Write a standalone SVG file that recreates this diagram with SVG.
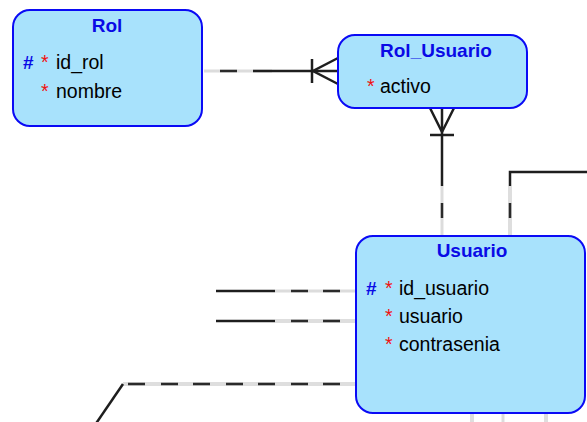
<svg xmlns="http://www.w3.org/2000/svg" width="587" height="422" viewBox="0 0 587 422">
  <style>
    .box { fill: #a8e2fc; stroke: #0a0af5; stroke-width: 2; }
    .title { font-family: "Liberation Sans", Arial, sans-serif; font-weight: bold; font-size: 19px; fill: #0a0ae6; text-anchor: middle; }
    .attr { font-family: "Liberation Sans", Arial, sans-serif; font-size: 19.5px; fill: #000; }
    .pk { font-family: "Liberation Sans", Arial, sans-serif; font-weight: bold; font-size: 19px; fill: #0a0ae6; }
    .req { font-family: "Liberation Sans", Arial, sans-serif; font-size: 19.5px; fill: #f01010; }
    .solid { stroke: #1e1e1e; stroke-width: 2.5; fill: none; }
    .dash { stroke: #2a2a2a; stroke-width: 2.5; fill: none; }
    .grey { stroke: #dcdcdc; stroke-width: 3; fill: none; }
    .rim { stroke: #bdbdbd; stroke-width: 3; fill: none; }
    .core { stroke: #ffffff; stroke-width: 1; fill: none; }
  </style>

  <g id="connectors">
    <!-- Rol to Rol_Usuario -->
    <line class="grey" x1="204" y1="71" x2="272" y2="71"/>
    <line class="dash" x1="220" y1="71" x2="237" y2="71"/>
    <line class="solid" x1="253" y1="71" x2="338" y2="71"/>
    <line class="solid" x1="312" y1="59" x2="312" y2="83"/>
    <polyline class="solid" points="338,58 313,71 338,84"/>

    <!-- Rol_Usuario to Usuario -->
    <line class="solid" x1="442" y1="108" x2="442" y2="186"/>
    <line class="grey" x1="442" y1="186" x2="442" y2="236"/>
    <line class="dash" x1="442" y1="203" x2="442" y2="218"/>
    <line class="solid" x1="430" y1="135" x2="454" y2="135"/>
    <polyline class="solid" points="430,108 442,132 454,108"/>

    <!-- right-hand link entering Usuario from above -->
    <polyline class="solid" points="587,172 510,172 510,186"/>
    <line class="rim" x1="510" y1="186" x2="510" y2="236"/>
    <line class="core" x1="510" y1="186" x2="510" y2="236"/>
    <line class="dash" x1="510" y1="203" x2="510" y2="218"/>

    <!-- left-hand links into Usuario -->
    <line class="grey" x1="275" y1="291" x2="356" y2="291"/>
    <line class="solid" x1="216" y1="291" x2="275" y2="291"/>
    <line class="dash" x1="291" y1="291" x2="308" y2="291"/>
    <line class="dash" x1="323" y1="291" x2="340" y2="291"/>

    <line class="rim" x1="275" y1="321" x2="356" y2="321"/>
    <line class="core" x1="275" y1="321" x2="356" y2="321"/>
    <line class="solid" x1="216" y1="321" x2="275" y2="321"/>
    <line class="dash" x1="291" y1="321" x2="308" y2="321"/>
    <line class="dash" x1="323" y1="321" x2="340" y2="321"/>

    <!-- lower-left link -->
    <line class="rim" x1="123" y1="384" x2="356" y2="384"/>
    <line class="core" x1="123" y1="384" x2="356" y2="384"/>
    <line class="solid" x1="123" y1="384" x2="95" y2="425"/>
    <g class="dash">
      <line x1="128" y1="384" x2="145" y2="384"/>
      <line x1="161" y1="384" x2="178" y2="384"/>
      <line x1="193" y1="384" x2="210" y2="384"/>
      <line x1="226" y1="384" x2="243" y2="384"/>
      <line x1="258" y1="384" x2="275" y2="384"/>
      <line x1="291" y1="384" x2="308" y2="384"/>
      <line x1="323" y1="384" x2="340" y2="384"/>
    </g>

    <!-- links leaving Usuario downward -->
    <line class="rim" x1="472" y1="413" x2="472" y2="422"/>
    <line class="core" x1="472" y1="413" x2="472" y2="422"/>
    <line class="grey" x1="503" y1="413" x2="503" y2="422"/>
    <line class="rim" x1="546" y1="413" x2="546" y2="422"/>
    <line class="core" x1="546" y1="413" x2="546" y2="422"/>
  </g>

  <g id="rol">
    <rect class="box" x="13" y="10" width="189" height="116" rx="17" ry="17"/>
    <text class="title" x="107" y="32">Rol</text>
    <text class="pk" x="23" y="69">#</text>
    <text class="req" x="41" y="69">*</text>
    <text class="attr" x="56" y="69">id_rol</text>
    <text class="req" x="41" y="98">*</text>
    <text class="attr" x="56" y="98">nombre</text>
  </g>

  <g id="rol_usuario">
    <rect class="box" x="338" y="35" width="189" height="73" rx="17" ry="17"/>
    <text class="title" x="436" y="57">Rol_Usuario</text>
    <text class="req" x="367" y="93">*</text>
    <text class="attr" x="380" y="93">activo</text>
  </g>

  <g id="usuario">
    <rect class="box" x="356" y="236" width="229" height="177" rx="17" ry="17"/>
    <text class="title" x="472" y="257">Usuario</text>
    <text class="pk" x="366" y="295">#</text>
    <text class="req" x="385" y="295">*</text>
    <text class="attr" x="399" y="295">id_usuario</text>
    <text class="req" x="385" y="323">*</text>
    <text class="attr" x="399" y="323">usuario</text>
    <text class="req" x="385" y="351">*</text>
    <text class="attr" x="399" y="351">contrasenia</text>
  </g>
</svg>
